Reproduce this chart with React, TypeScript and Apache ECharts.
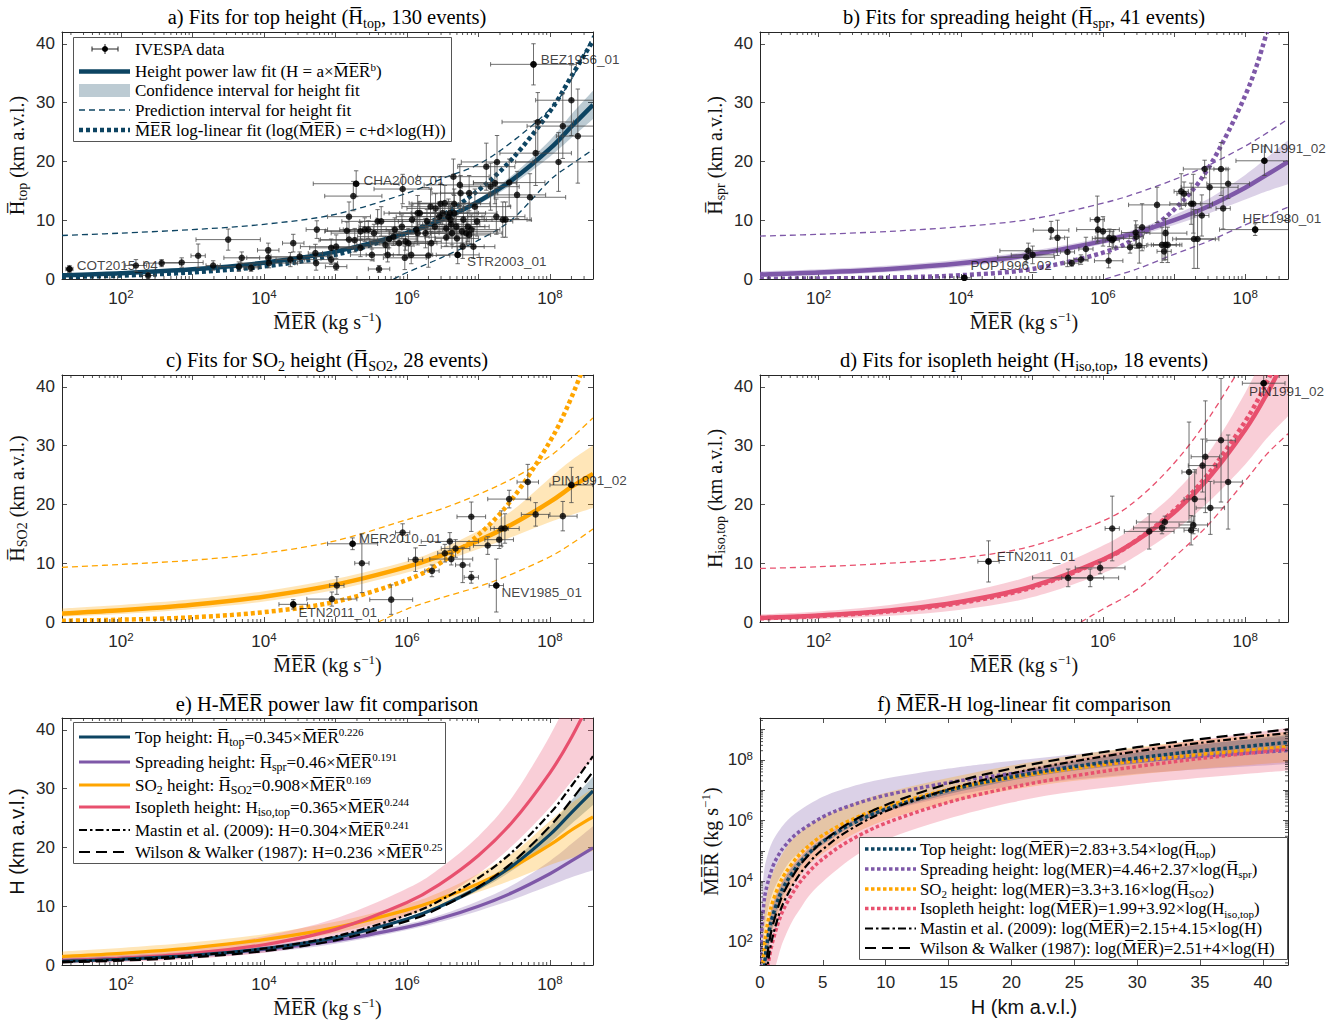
import React, { useEffect, useRef } from "react";
import * as echarts from "echarts";

// ---------------- DATA ----------------
// MER values (kg s^-1) at which the fitted curves were read
const MER_GRID = [15, 1e2, 1e3, 1e4, 1e5, 1e6, 3e6, 1e7, 3e7, 1e8, 2e8, 4e8];

// (a) top height (km a.v.l.)
const TOP_FIT = [0.64, 0.98, 1.64, 2.77, 4.65, 7.83, 10.04, 13.18, 16.89, 22.17, 25.93, 29.6];
const TOP_CI_LO = [0.45, 0.82, 1.5, 2.63, 4.5, 7.6, 9.75, 12.7, 16.1, 20.8, 24.0, 27.2];
const TOP_CI_HI = [0.82, 1.13, 1.78, 2.91, 4.8, 8.05, 10.35, 13.65, 17.7, 23.6, 28.0, 32.0];
const TOP_PI_HI = [7.4, 7.8, 8.4, 9.3, 11.0, 14.6, 17.0, 19.5, 23.4, 28.9, 34.0, 41.4];
const TOP_PI_LO = [[6.5e5, 0], [1e6, 1.1], [3e6, 3.6], [1e7, 6.6], [3e7, 10.2], [1e8, 16.8], [2e8, 19.5], [4e8, 22.0]];
const TOP_LOGLIN = [0.34, 0.58, 1.12, 2.14, 4.1, 7.86, 10.7, 15.1, 20.5, 28.5, 34.5, 40.5];

// (b) spreading height
const SPR_FIT = [0.77, 1.11, 1.72, 2.67, 4.15, 6.44, 7.94, 10.0, 12.33, 15.52, 17.71, 19.9];
const SPR_CI_LO = [0.35, 0.65, 1.2, 2.1, 3.6, 5.95, 7.35, 9.2, 11.1, 13.5, 14.9, 16.1];
const SPR_CI_HI = [1.3, 1.65, 2.3, 3.3, 4.8, 7.0, 8.55, 10.9, 13.6, 17.7, 20.6, 23.6];
const SPR_PI_HI = [7.3, 7.6, 8.1, 8.9, 10.2, 12.9, 14.6, 16.9, 19.3, 22.6, 24.8, 27.2];
const SPR_PI_LO = [[1.07e6, 0], [3e6, 1.7], [1e7, 4.2], [3e7, 6.4], [1e8, 9.2], [2e8, 10.7], [4e8, 12.2]];
const SPR_LOGLIN = [0.041, 0.092, 0.242, 0.64, 1.69, 4.47, 7.1, 11.8, 18.75, 31.2, 41.8, 55.9];

// (c) SO2 height
const SO2_FIT = [1.44, 1.98, 2.92, 4.31, 6.35, 9.38, 11.29, 13.84, 16.66, 20.42, 22.96, 25.2];
const SO2_CI_LO = [0.9, 1.35, 2.2, 3.5, 5.45, 8.4, 10.2, 12.4, 14.5, 17.0, 18.2, 19.4];
const SO2_CI_HI = [2.3, 2.9, 3.85, 5.25, 7.35, 10.35, 12.45, 15.5, 19.0, 24.5, 27.5, 30.0];
const SO2_PI_HI = [9.3, 9.8, 10.5, 11.7, 13.8, 17.4, 19.2, 21.7, 24.4, 28.2, 31.3, 34.7];
const SO2_PI_LO = [[4e5, 0], [1e6, 2.2], [3e6, 4.1], [1e7, 6.0], [3e7, 8.2], [1e8, 11.1], [2e8, 13.3], [4e8, 15.8]];
const SO2_LOGLIN = [0.21, 0.39, 0.8, 1.67, 3.45, 7.15, 10.12, 14.82, 20.98, 30.7, 38.2, 47.6];

// (d) isopleth height
const ISO_FIT = [0.71, 1.12, 1.97, 3.45, 6.06, 10.63, 13.89, 18.63, 24.36, 32.68, 38.7, 45.8];
const ISO_CI_LO = [0.25, 0.5, 1.05, 2.1, 4.2, 8.3, 11.3, 15.5, 20.3, 26.8, 31.2, 35.0];
const ISO_CI_HI = [1.3, 1.8, 2.9, 4.9, 7.9, 13.0, 16.6, 21.9, 28.6, 39.0, 46.5, 55.0];
const ISO_PI_HI = [9.1, 9.4, 10.0, 10.9, 12.9, 17.2, 20.8, 27.0, 34.5, 44.5, 50.0, 56.0];
const ISO_PI_LO = [[4.9e5, 0], [1e6, 2.2], [3e6, 5.5], [1e7, 11.0], [3e7, 16.5], [1e8, 24.0], [2e8, 28.5], [4e8, 32.0]];
const ISO_LOGLIN = [0.62, 1.01, 1.81, 3.26, 5.86, 10.54, 13.95, 18.97, 25.1, 34.1, 40.7, 48.6];

// (e) literature relations read at MER_GRID
const MASTIN_H = [0.58, 0.92, 1.61, 2.8, 4.87, 8.49, 11.06, 14.79, 19.27, 25.76, 30.44, 35.5];
const WILSON_H = [0.46, 0.75, 1.33, 2.36, 4.2, 7.46, 9.82, 13.27, 17.45, 23.6, 28.06, 32.9];

// events: [log10 MER, H, ±log10 MER error, ±H error]
const TOP_POINTS = [
  [1.28, 1.7, 0.05, 0.6], [2.21, 2.3, 0.15, 1.0], [2.38, 0.6, 0.1, 0.5], [2.57, 2.7, 0.25, 0.6], [2.85, 2.8, 0.3, 0.8],
  [3.08, 3.95, 0.1, 2.0], [3.29, 2.3, 0.1, 0.8], [3.5, 6.7, 0.45, 1.8], [3.69, 3.6, 0.25, 1.0], [3.65, 2.1, 0.3, 0.8],
  [3.82, 1.9, 0.1, 0.6], [4.06, 4.9, 0.15, 1.2], [4.06, 3.6, 0.3, 0.8], [4.07, 2.7, 0.4, 0.8], [4.41, 6.1, 0.15, 1.5],
  [4.5, 3.8, 0.4, 0.8], [4.37, 3.3, 0.2, 1.2], [4.72, 4.4, 0.1, 1.5], [4.74, 8.4, 0.15, 1.5], [4.73, 2.7, 0.3, 1.2],
  [4.94, 3.3, 0.6, 0.8], [4.94, 5.3, 0.3, 1.5], [5.01, 2.1, 0.15, 0.6], [5.01, 5.5, 0.5, 2.0], [5.16, 8.2, 0.3, 1.5],
  [5.19, 10.6, 0.3, 2.5], [5.25, 14.1, 0.4, 2.5], [5.29, 16.2, 0.6, 2.2], [5.19, 6.7, 0.4, 1.5], [5.27, 6.6, 0.5, 2.0],
  [5.35, 8.1, 0.5, 1.5], [5.41, 8.4, 0.3, 2.0], [5.46, 8.4, 0.4, 1.5], [5.35, 5.3, 0.4, 1.5], [5.51, 4.1, 0.3, 1.0],
  [5.61, 1.7, 0.15, 0.6], [5.59, 9.8, 0.5, 2.0], [5.64, 9.8, 0.3, 2.5], [5.54, 7.8, 0.6, 1.5], [5.7, 5.8, 0.4, 1.5],
  [5.73, 4.1, 0.3, 1.2], [5.81, 7.2, 0.5, 1.5], [5.83, 8.4, 0.5, 2.0], [5.89, 6.1, 0.4, 2.0], [5.93, 8.9, 0.6, 2.0],
  [5.94, 15.3, 0.4, 2.5], [5.97, 3.6, 0.3, 2.0], [5.98, 6.4, 0.5, 1.5], [6.02, 6.1, 0.4, 2.5], [6.06, 4.1, 0.3, 1.5],
  [6.07, 10.1, 0.5, 2.5], [6.13, 8.4, 0.6, 2.0], [6.15, 11.2, 0.4, 3.0], [6.18, 11.2, 0.5, 2.0], [6.15, 7.8, 0.3, 2.0],
  [6.26, 7.8, 0.5, 2.5], [6.28, 9.8, 0.4, 2.0], [6.3, 4.0, 0.3, 2.0], [6.33, 12.3, 0.4, 3.0], [6.34, 6.1, 0.5, 2.0],
  [6.39, 8.9, 0.5, 2.5], [6.45, 10.6, 0.6, 2.5], [6.47, 12.8, 0.4, 3.5], [6.5, 11.2, 0.6, 2.0], [6.53, 12.9, 0.5, 3.0],
  [6.55, 8.6, 0.4, 2.0], [6.55, 7.1, 0.3, 1.5], [6.58, 10.6, 0.5, 3.0], [6.6, 11.2, 0.4, 2.0], [6.61, 10.1, 0.5, 2.5],
  [6.63, 7.8, 0.3, 2.0], [6.65, 17.4, 0.5, 3.0], [6.66, 12.8, 0.5, 2.5], [6.66, 11.2, 0.6, 3.0], [6.69, 8.9, 0.4, 2.0],
  [6.7, 6.9, 0.3, 2.5], [6.71, 4.1, 0.3, 1.5], [6.74, 16.0, 0.5, 3.5], [6.75, 14.6, 0.4, 3.0], [6.77, 8.1, 0.5, 2.0],
  [6.78, 5.5, 0.3, 2.0], [6.79, 10.1, 0.4, 2.5], [6.83, 7.8, 0.5, 2.0], [6.85, 8.9, 0.3, 2.5], [6.87, 14.6, 0.4, 3.0],
  [6.87, 7.5, 0.3, 1.5], [6.93, 5.5, 0.3, 2.0], [6.9, 8.4, 0.4, 2.5], [6.98, 9.8, 0.5, 2.5], [7.11, 19.1, 0.4, 4.0],
  [7.17, 15.7, 0.4, 4.0], [7.23, 16.3, 0.3, 3.5], [7.26, 19.9, 0.5, 4.5], [7.25, 10.6, 0.4, 3.0], [7.34, 10.1, 0.4, 3.0],
  [7.38, 10.1, 0.3, 3.0], [7.43, 16.4, 0.5, 4.0], [7.54, 14.3, 0.4, 4.0], [7.72, 13.9, 0.5, 4.0], [7.77, 36.5, 0.6, 3.5],
  [7.8, 21.4, 0.5, 5.5], [7.83, 26.7, 0.5, 5.0], [8.12, 19.9, 0.6, 5.0], [8.18, 26.0, 0.5, 5.5], [8.3, 30.4, 0.5, 6.0],
  [8.39, 24.3, 0.3, 8.0], [6.4, 12.0, 0.4, 2.5], [6.62, 9.3, 0.4, 2.0], [6.95, 12.3, 0.5, 3.0], [5.75, 6.8, 0.4, 1.5],
];
const SPR_POINTS = [
  [4.05, 0.2, 0.1, 0.3], [4.92, 3.7, 0.4, 1.0], [4.95, 4.8, 0.4, 1.3], [5.01, 4.1, 0.3, 1.5], [5.27, 8.3, 0.25, 1.5],
  [5.36, 7.0, 0.1, 3.0], [5.5, 4.6, 0.1, 2.5], [5.56, 2.7, 0.1, 0.5], [5.69, 3.3, 0.1, 0.8], [5.76, 5.1, 0.1, 2.0],
  [5.92, 10.1, 0.1, 4.0], [5.93, 8.4, 0.3, 2.0], [6.0, 8.1, 0.1, 2.5], [6.08, 3.1, 0.2, 1.2], [6.09, 7.0, 0.2, 1.5],
  [6.13, 6.6, 0.1, 1.5], [6.15, 6.9, 0.3, 1.5], [6.38, 5.4, 0.2, 1.0], [6.46, 7.9, 0.2, 2.0], [6.47, 7.2, 0.1, 2.0],
  [6.51, 5.7, 0.1, 3.0], [6.55, 8.8, 0.1, 4.0], [6.76, 12.6, 0.4, 3.0], [6.83, 5.8, 0.2, 3.0], [6.88, 5.8, 0.2, 2.5],
  [6.86, 4.7, 0.1, 1.5], [6.88, 7.8, 0.3, 2.5], [6.91, 5.8, 0.2, 3.0], [7.1, 14.9, 0.1, 3.0], [7.14, 14.5, 0.1, 2.0],
  [7.24, 12.8, 0.3, 3.5], [7.27, 12.8, 0.1, 5.0], [7.28, 6.8, 0.3, 5.0], [7.33, 6.8, 0.3, 5.0], [7.39, 10.8, 0.1, 3.5],
  [7.43, 18.7, 0.3, 1.5], [7.5, 15.6, 0.4, 3.5], [7.66, 18.7, 0.1, 4.5], [7.69, 12.0, 0.1, 3.5], [7.76, 16.2, 0.3, 2.5],
  [8.14, 8.4, 0.5, 1.0], [8.27, 20.1, 0.4, 2.5],
];
const SO2_POINTS = [
  [4.41, 3.0, 0.2, 0.8], [4.95, 3.9, 0.35, 1.2], [5.02, 6.2, 0.1, 1.5], [5.24, 13.3, 0.35, 1.0], [5.37, 10.0, 0.1, 5.0],
  [5.78, 3.8, 0.3, 2.5], [5.94, 15.2, 0.1, 1.5], [6.12, 10.6, 0.1, 2.0], [6.35, 8.7, 0.1, 1.0], [6.53, 11.7, 0.1, 1.5],
  [6.6, 13.7, 0.4, 1.5], [6.62, 10.7, 0.3, 1.0], [6.68, 12.5, 0.2, 1.5], [6.78, 9.7, 0.1, 3.0], [6.9, 17.9, 0.2, 2.5],
  [6.9, 7.6, 0.1, 1.0], [7.13, 13.0, 0.2, 1.5], [7.25, 6.2, 0.1, 4.5], [7.29, 14.0, 0.2, 1.5], [7.32, 15.9, 0.1, 3.0],
  [7.37, 15.9, 0.2, 2.5], [7.43, 20.9, 0.3, 1.5], [7.69, 23.8, 0.15, 3.0], [7.8, 18.3, 0.2, 2.0], [8.18, 18.0, 0.2, 2.5],
  [8.3, 23.3, 0.3, 3.0],
];
const ISO_POINTS = [
  [4.39, 10.3, 0.15, 3.5], [5.51, 7.5, 0.5, 1.5], [5.82, 7.5, 0.4, 1.5], [5.96, 9.2, 0.35, 1.0], [6.13, 15.9, 0.1, 5.5],
  [6.65, 15.4, 0.35, 3.0], [6.83, 16.0, 0.4, 1.0], [6.87, 17.0, 0.4, 1.0], [7.21, 25.5, 0.1, 8.5], [7.24, 15.6, 0.1, 2.5],
  [7.27, 16.5, 0.2, 1.5], [7.29, 20.9, 0.15, 5.0], [7.4, 26.6, 0.2, 4.5], [7.44, 28.1, 0.2, 9.5], [7.51, 19.4, 0.2, 4.5],
  [7.66, 30.9, 0.2, 10.5], [7.76, 23.8, 0.2, 8.0], [8.26, 40.6, 0.3, 1.5],
];

// labelled events: [name, log10 MER, H]
const TOP_EVENTS = [["COT2015_04", 1.28, 1.7], ["CHA2008_01", 5.29, 16.2], ["BEZ1956_01", 7.77, 36.5], ["STR2003_01", 6.71, 4.1]];
const SPR_EVENTS = [["PIN1991_02", 8.27, 20.1], ["HEL1980_01", 8.14, 8.4], ["POP1996_02", 4.05, 0.2]];
const SO2_EVENTS = [["MER2010_01", 5.24, 13.3], ["ETN2011_01", 4.41, 3.0], ["NEV1985_01", 7.25, 6.2], ["PIN1991_02", 8.3, 23.3]];
const ISO_EVENTS = [["ETN2011_01", 4.39, 10.3], ["PIN1991_02", 8.26, 40.6]];

// (f) log-linear fits: [H (km), log10 MER]
const F_TOP = [[0.34, 1.17], [0.5, 1.764], [0.75, 2.388], [1, 2.83], [1.5, 3.453], [2, 3.896], [3, 4.519], [4, 4.961], [5, 5.304], [7, 5.822], [10, 6.37], [15, 6.993], [20, 7.436], [25, 7.779], [30, 8.059], [35, 8.296], [42, 8.576]];
const F_SPR = [[0.04, 1.147], [0.05, 1.377], [0.1, 2.09], [0.3, 3.221], [0.5, 3.747], [1, 4.46], [1.5, 4.877], [2, 5.173], [3, 5.591], [5, 6.117], [7, 6.463], [10, 6.83], [15, 7.247], [20, 7.543], [25, 7.773], [30, 7.961], [35, 8.12], [42, 8.307]];
const F_SO2 = [[0.2, 1.091], [0.3, 1.648], [0.5, 2.349], [0.75, 2.905], [1, 3.3], [1.5, 3.856], [2, 4.251], [3, 4.808], [4, 5.203], [5, 5.509], [7, 5.971], [10, 6.46], [15, 7.016], [20, 7.411], [25, 7.717], [30, 7.968], [35, 8.179], [42, 8.429]];
const F_ISO = [[0.62, 1.18], [0.75, 1.5], [1, 1.99], [1.5, 2.68], [2, 3.17], [3, 3.86], [4, 4.35], [5, 4.73], [7, 5.303], [10, 5.91], [15, 6.6], [20, 7.09], [25, 7.47], [30, 7.78], [35, 8.043], [42, 8.353]];
const F_MASTIN = [[0.5, 0.901], [0.75, 1.632], [1, 2.15], [1.5, 2.881], [2, 3.399], [3, 4.13], [4, 4.649], [5, 5.051], [7, 5.657], [10, 6.3], [15, 7.031], [20, 7.549], [25, 7.951], [30, 8.28], [35, 8.558], [42, 8.886]];
const F_WILSON = [[0.4, 0.918], [0.5, 1.306], [0.75, 2.01], [1, 2.51], [1.5, 3.214], [2, 3.714], [3, 4.418], [4, 4.918], [5, 5.306], [7, 5.89], [10, 6.51], [15, 7.214], [20, 7.714], [25, 8.102], [30, 8.418], [35, 8.686], [42, 9.003]];
// (f) confidence bands: [H, log10 MER low, log10 MER high]
const F_TOP_CI = [[0.3, 0.33, 1.63], [0.5, 1.26, 2.26], [0.75, 1.97, 2.81], [1, 2.48, 3.18], [1.5, 3.17, 3.73], [2, 3.68, 4.12], [3, 4.36, 4.68], [5, 5.2, 5.4], [10, 6.29, 6.45], [20, 7.32, 7.56], [30, 7.88, 8.24], [42, 8.33, 8.83]];
const F_SPR_CI = [[0.05, 0.08, 2.68], [0.1, 0.94, 3.24], [0.3, 2.22, 4.22], [0.5, 2.8, 4.7], [1, 3.61, 5.31], [2, 4.42, 5.92], [3, 4.89, 6.29], [5, 5.46, 6.78], [7, 5.84, 7.08], [10, 6.28, 7.38], [15, 6.79, 7.71], [20, 7.12, 7.96], [30, 7.54, 8.38], [42, 7.86, 8.76]];
const F_SO2_CI = [[0.2, -0.21, 2.39], [0.3, 0.45, 2.85], [0.5, 1.25, 3.45], [1, 2.35, 4.25], [2, 3.45, 5.05], [3, 4.09, 5.53], [5, 4.91, 6.11], [10, 6.01, 6.91], [20, 7.01, 7.81], [30, 7.52, 8.42], [42, 7.93, 8.93]];
const F_ISO_CI = [[0.3, -1.56, 1.44], [0.5, -0.59, 2.21], [1, 0.74, 3.24], [1.5, 1.58, 3.78], [2, 2.17, 4.17], [3, 2.96, 4.76], [5, 3.98, 5.48], [10, 5.36, 6.46], [20, 6.59, 7.59], [30, 7.2, 8.36], [42, 7.65, 9.05]];

// minor log ticks (axis decoration)
const MINOR_MANTISSA = [2, 3, 4, 5, 6, 7, 8, 9];
const MINOR_DECADES = [1, 2, 3, 4, 5, 6, 7, 8, 9];

// ---------------- STYLE ----------------
const SERIF = "'Liberation Serif', 'DejaVu Serif', serif";
const SANS = "'Liberation Sans', Arial, sans-serif";
const AX = "#262626";
const C_TOP = "#0d4462";
const C_SPR = "#7e58a8";
const C_SO2 = "#ffa500";
const C_ISO = "#e8506e";
const B_TOP = "rgba(13,68,98,0.28)";
const B_SPR = "rgba(126,88,168,0.28)";
const B_SO2 = "rgba(255,165,0,0.28)";
const B_ISO = "rgba(232,80,110,0.28)";
const DOTTED = [4, 3];
const DOTTED_F = [3.5, 2.5];
const DASHED = [6, 4];
const DASHDOT = [8, 3, 2.5, 3];
const LONGDASH = [11, 6];

const X_MIN = 15, X_MAX = 4e8, Y_MAX = 42, F_Y_MIN = 17, F_Y_MAX = 2.4e9;

const GRIDS = [
  { left: 62, top: 32, width: 531, height: 247 },
  { left: 760, top: 32, width: 528, height: 247 },
  { left: 62, top: 375, width: 531, height: 247 },
  { left: 760, top: 375, width: 528, height: 247 },
  { left: 62, top: 718, width: 531, height: 247 },
  { left: 760, top: 718, width: 528, height: 247 },
];

const ovl = (s: string) => s.split("").map((c) => c + "\u0305").join("");
const MER = ovl("MER");
const HB = "H\u0305";

function richFor(size: number, family: string, color = "#000", ec = false) {
  const colorKey = ec ? "color" : "fill";
  return {
    sub: { fontSize: Math.round(size * 0.68), fontFamily: family, [colorKey]: color, verticalAlign: "bottom", lineHeight: Math.round(size * 0.72) },
    sup: { fontSize: Math.round(size * 0.64), fontFamily: family, [colorKey]: color, verticalAlign: "top", lineHeight: Math.round(size * 0.6) },
  };
}

const p10 = (v: number) => Math.pow(10, v);

// ---------------- SERIES HELPERS ----------------
function smoothPath(pts: number[][], move: boolean) {
  let d = (move ? "M" : "L") + pts[0][0].toFixed(2) + "," + pts[0][1].toFixed(2);
  for (let i = 0; i < pts.length - 1; i++) {
    const p0 = pts[i - 1] || pts[i], p1 = pts[i], p2 = pts[i + 1], p3 = pts[i + 2] || p2;
    let c1x = p1[0] + (p2[0] - p0[0]) / 6, c1y = p1[1] + (p2[1] - p0[1]) / 6;
    let c2x = p2[0] - (p3[0] - p1[0]) / 6, c2y = p2[1] - (p3[1] - p1[1]) / 6;
    const lo = Math.min(p1[0], p2[0]), hi = Math.max(p1[0], p2[0]);
    c1x = Math.min(hi, Math.max(lo, c1x));
    c2x = Math.min(hi, Math.max(lo, c2x));
    d += ` C${c1x.toFixed(2)},${c1y.toFixed(2)} ${c2x.toFixed(2)},${c2y.toFixed(2)} ${p2[0].toFixed(2)},${p2[1].toFixed(2)}`;
  }
  return d;
}

// smooth curve drawn through the axes' scales (api.coord)
function curve(gi: number, data: number[][], color: string, width: number, dash: any, z = 3) {
  return {
    type: "custom", xAxisIndex: 2 * gi, yAxisIndex: 2 * gi, silent: true, clip: true, z,
    data, encode: { x: 0, y: 1 },
    renderItem: (params: any, api: any) => {
      if (params.dataIndex !== 0) return null;
      const pts = data.map((d) => api.coord(d));
      return {
        type: "path", shape: { pathData: smoothPath(pts, true) },
        style: { fill: null, stroke: color, lineWidth: width, lineDash: dash === "solid" ? null : dash, lineCap: "butt", lineJoin: "round" },
      };
    },
  };
}

function band(gi: number, rows: number[][], fill: string, z = 1) {
  // rows: [x, lo, hi]
  return {
    type: "custom", xAxisIndex: 2 * gi, yAxisIndex: 2 * gi, silent: true, clip: true, z,
    data: rows, encode: { x: 0, y: [1, 2] },
    renderItem: (params: any, api: any) => {
      if (params.dataIndex !== 0) return null;
      const up = rows.map((r) => api.coord([r[0], r[2]]));
      const lo = rows.map((r) => api.coord([r[0], r[1]])).reverse();
      const d = smoothPath(up, true) + " " + smoothPath(lo, false) + " Z";
      return { type: "path", shape: { pathData: d }, style: { fill, stroke: null } };
    },
  };
}

function errBars(gi: number, pts: number[][]) {
  return {
    type: "custom", xAxisIndex: 2 * gi, yAxisIndex: 2 * gi, silent: true, clip: true, z: 5,
    data: pts.map((p) => [p10(p[0]), p[1], p10(p[0] - p[2]), p10(p[0] + p[2]), Math.max(p[1] - p[3], 0.001), p[1] + p[3]]),
    encode: { x: [0, 2, 3], y: [1, 4, 5] },
    renderItem: (params: any, api: any) => {
      const x = api.value(0), y = api.value(1);
      const l = api.coord([api.value(2), y]), r = api.coord([api.value(3), y]);
      const b = api.coord([x, api.value(4)]), t = api.coord([x, api.value(5)]);
      const st = { stroke: "#4a4a4a", lineWidth: 0.8 };
      const c = 2.2;
      return {
        type: "group",
        children: [
          { type: "line", shape: { x1: l[0], y1: l[1], x2: r[0], y2: r[1] }, style: st },
          { type: "line", shape: { x1: l[0], y1: l[1] - c, x2: l[0], y2: l[1] + c }, style: st },
          { type: "line", shape: { x1: r[0], y1: r[1] - c, x2: r[0], y2: r[1] + c }, style: st },
          { type: "line", shape: { x1: b[0], y1: b[1], x2: t[0], y2: t[1] }, style: st },
          { type: "line", shape: { x1: b[0] - c, y1: b[1], x2: b[0] + c, y2: b[1] }, style: st },
          { type: "line", shape: { x1: t[0] - c, y1: t[1], x2: t[0] + c, y2: t[1] }, style: st },
        ],
      };
    },
  };
}

function dots(gi: number, pts: number[][]) {
  return {
    type: "scatter", xAxisIndex: 2 * gi, yAxisIndex: 2 * gi, silent: true, z: 6, clip: false,
    data: pts.map((p) => [p10(p[0]), p[1]]), symbol: "circle", symbolSize: 6.5,
    itemStyle: { color: "#000" }, emphasis: { disabled: true },
  };
}

function eventLabels(gi: number, evs: any[], offsets: number[][]) {
  return {
    type: "scatter", xAxisIndex: 2 * gi, yAxisIndex: 2 * gi, silent: true, z: 7, clip: false,
    symbol: "circle", symbolSize: 6.5, itemStyle: { color: "#000" }, emphasis: { disabled: true },
    data: evs.map((e, i) => ({
      value: [p10(e[1]), e[2]], name: e[0],
      label: { show: true, position: "right", distance: 4, offset: offsets[i], formatter: e[0], fontFamily: SANS, fontSize: 13.5, color: "#111" },
    })),
  };
}

function minorTicksX(gi: number, yTop: number) {
  const vals: number[][] = [];
  MINOR_DECADES.forEach((e) => MINOR_MANTISSA.forEach((m) => {
    const v = m * Math.pow(10, e);
    if (v > X_MIN && v < X_MAX) vals.push([v, 0]);
  }));
  return {
    type: "custom", xAxisIndex: 2 * gi, yAxisIndex: 2 * gi, silent: true, clip: false, z: 8, data: vals,
    encode: { x: 0, y: 1 },
    renderItem: (params: any, api: any) => {
      const v = api.value(0);
      const b = api.coord([v, 0]), t = api.coord([v, yTop]);
      const st = { stroke: AX, lineWidth: 0.8 };
      return { type: "group", children: [
        { type: "line", shape: { x1: b[0], y1: b[1], x2: b[0], y2: b[1] - 3 }, style: st },
        { type: "line", shape: { x1: t[0], y1: t[1], x2: t[0], y2: t[1] + 3 }, style: st },
      ] };
    },
  };
}

function minorTicksY(gi: number, xRight: number) {
  const vals: number[][] = [];
  MINOR_DECADES.forEach((e) => MINOR_MANTISSA.forEach((m) => {
    const v = m * Math.pow(10, e);
    if (v > F_Y_MIN && v < F_Y_MAX) vals.push([0, v]);
  }));
  return {
    type: "custom", xAxisIndex: 2 * gi, yAxisIndex: 2 * gi, silent: true, clip: false, z: 8, data: vals,
    encode: { x: 0, y: 1 },
    renderItem: (params: any, api: any) => {
      const v = api.value(1);
      const l = api.coord([0, v]), r = api.coord([xRight, v]);
      const st = { stroke: AX, lineWidth: 0.8 };
      return { type: "group", children: [
        { type: "line", shape: { x1: l[0], y1: l[1], x2: l[0] + 3, y2: l[1] }, style: st },
        { type: "line", shape: { x1: r[0], y1: r[1], x2: r[0] - 3, y2: r[1] }, style: st },
      ] };
    },
  };
}

const onGrid = (ys: number[]) => MER_GRID.map((m, i) => [m, ys[i]]);
const ciRows = (lo: number[], hi: number[]) => MER_GRID.map((m, i) => [m, lo[i], hi[i]]);
const fRows = (arr: number[][]) => arr.map((r) => [r[0], p10(r[1])]);
const fBand = (arr: number[][]) => arr.map((r) => [r[0], p10(r[1]), p10(r[2])]);

function fitPanel(gi: number, c: any) {
  return [
    band(gi, ciRows(c.ciLo, c.ciHi), c.band),
    curve(gi, onGrid(c.piHi), c.color, 1.3, DASHED, 3),
    curve(gi, c.piLo, c.color, 1.3, DASHED, 3),
    curve(gi, onGrid(c.fit), c.color, 4.5, "solid", 4),
    curve(gi, onGrid(c.ll), c.color, 4.5, DOTTED, 4),
    errBars(gi, c.points),
    dots(gi, c.points),
    eventLabels(gi, c.events, c.offsets),
    minorTicksX(gi, Y_MAX),
  ];
}

// ---------------- AXES ----------------
const axisLineCfg = { show: true, onZero: false, lineStyle: { color: AX, width: 1 } };
const tickCfg = { show: true, inside: true, length: 5, lineStyle: { color: AX, width: 0.8 } };
const tickRich = {
  b: { fontFamily: SANS, fontSize: 17, color: AX, lineHeight: 20 },
  e: { fontFamily: SANS, fontSize: 11.5, color: AX, verticalAlign: "top", lineHeight: 11 },
};
const logFmt = (v: number) => {
  const e = Math.log10(v);
  const r = Math.round(e);
  if (Math.abs(e - r) > 1e-6 || r % 2 !== 0) return "";
  return `{b|10}{e|${r}}`;
};

const NAME_SIZE = 20;
function nameStyle(family: string, size = NAME_SIZE) {
  return { fontFamily: family, fontSize: size, color: "#111", lineHeight: 24, rich: richFor(size, family, "#111", true) };
}

function logX(gi: number, top: boolean, name = "") {
  return {
    type: "log", logBase: 10, gridIndex: gi, min: X_MIN, max: X_MAX, position: top ? "top" : "bottom",
    axisLine: axisLineCfg, axisTick: tickCfg, splitLine: { show: false }, minorTick: { show: false },
    axisLabel: top ? { show: false } : { show: true, formatter: logFmt, margin: 9, rich: tickRich, color: AX, fontFamily: SANS, fontSize: 17 },
    name: top ? "" : name, nameLocation: "middle", nameGap: 31, nameTextStyle: nameStyle(SERIF),
    silent: true,
  };
}
function linY(gi: number, right: boolean, name = "", family = SERIF) {
  return {
    type: "value", gridIndex: gi, min: 0, max: Y_MAX, interval: 10, position: right ? "right" : "left",
    axisLine: axisLineCfg, axisTick: tickCfg, splitLine: { show: false },
    axisLabel: right ? { show: false } : { show: true, margin: 7, color: AX, fontFamily: SANS, fontSize: 17, formatter: (v: number) => (v % 10 === 0 ? String(v) : "") },
    name: right ? "" : name, nameLocation: "middle", nameGap: 33, nameTextStyle: nameStyle(family),
    silent: true,
  };
}
function linXF(gi: number, top: boolean) {
  return {
    type: "value", gridIndex: gi, min: 0, max: Y_MAX, interval: 5, position: top ? "top" : "bottom",
    axisLine: axisLineCfg, axisTick: tickCfg, splitLine: { show: false },
    axisLabel: top ? { show: false } : { show: true, margin: 9, color: AX, fontFamily: SANS, fontSize: 17, formatter: (v: number) => (v % 5 === 0 ? String(v) : "") },
    name: top ? "" : "H (km a.v.l.)", nameLocation: "middle", nameGap: 30, nameTextStyle: nameStyle(SANS),
    silent: true,
  };
}
function logYF(gi: number, right: boolean) {
  return {
    type: "log", logBase: 10, gridIndex: gi, min: F_Y_MIN, max: F_Y_MAX, position: right ? "right" : "left",
    axisLine: axisLineCfg, axisTick: tickCfg, splitLine: { show: false },
    axisLabel: right ? { show: false } : { show: true, formatter: logFmt, margin: 7, rich: tickRich, color: AX, fontFamily: SANS, fontSize: 17 },
    name: right ? "" : `${MER} (kg s{sup|−1})`, nameLocation: "middle", nameGap: 37, nameTextStyle: nameStyle(SERIF),
    silent: true,
  };
}

// ---------------- GRAPHIC (titles & legends) ----------------
function gtext(x: number, y: number, text: string, size: number, family = SERIF, align = "left") {
  return {
    type: "text", x, y, z: 101, silent: true,
    style: {
      text, fontFamily: family, fontSize: size, fill: "#000", align, textAlign: align,
      verticalAlign: "middle", textVerticalAlign: "middle", lineHeight: Math.round(size * 1.25),
      rich: richFor(size, family),
    },
  };
}
function gline(x1: number, y1: number, x2: number, y2: number, stroke: string, lineWidth: number, dash?: number[]) {
  return { type: "line", z: 101, silent: true, shape: { x1, y1, x2, y2 }, style: { stroke, lineWidth, lineDash: dash || null, lineCap: "butt" } };
}
function grect(x: number, y: number, w: number, h: number, fill: string, stroke?: string) {
  return { type: "rect", z: 100, silent: true, shape: { x, y, width: w, height: h }, style: { fill, stroke: stroke || null, lineWidth: 1 } };
}

const TITLES = [
  [327, 17, `a) Fits for top height (${HB}{sub|top}, 130 events)`],
  [1024, 17, `b) Fits for spreading height (${HB}{sub|spr}, 41 events)`],
  [327, 360, `c) Fits for SO{sub|2} height (${HB}{sub|SO2}, 28 events)`],
  [1024, 360, `d) Fits for isopleth height (H{sub|iso,top}, 18 events)`],
  [327, 704, `e) H-${MER} power law fit comparison`],
  [1024, 704, `f) ${MER}-H log-linear fit comparison`],
];

function buildGraphic() {
  const g: any[] = [];
  TITLES.forEach((t) => g.push(gtext(t[0] as number, t[1] as number, t[2] as string, 20.5, SERIF, "center")));

  // legend a
  g.push(grect(73.5, 37.5, 378, 104, "#fff", "#555"));
  const ax1 = 79, ax2 = 130, tx = 135, fs = 17;
  g.push(gline(92, 49, 118, 49, "#222", 1));
  g.push(gline(92, 46.5, 92, 51.5, "#222", 1));
  g.push(gline(118, 46.5, 118, 51.5, "#222", 1));
  g.push(gline(105, 44, 105, 54, "#222", 1));
  g.push({ type: "circle", z: 102, silent: true, shape: { cx: 105, cy: 49, r: 3 }, style: { fill: "#000" } });
  g.push(gtext(tx, 49, "IVESPA data", fs));
  g.push(gline(ax1, 71.5, ax2, 71.5, C_TOP, 4.5));
  g.push(gtext(tx, 71.5, `Height power law fit (H = a×${MER}{sup|b})`, fs));
  g.push(grect(ax1, 84, ax2 - ax1, 13, B_TOP));
  g.push(gtext(tx, 90.5, "Confidence interval for height fit", fs));
  g.push(gline(ax1, 110, ax2, 110, C_TOP, 1.3, DASHED));
  g.push(gtext(tx, 110, "Prediction interval for height fit", fs));
  g.push(gline(ax1, 130, ax2, 130, C_TOP, 4.5, DOTTED));
  g.push(gtext(tx, 130, `${MER} log-linear fit (log(${MER}) = c+d×log(H))`, fs));

  // legend e
  g.push(grect(73.5, 722.5, 372, 141, "#fff", "#555"));
  const eRows: any[] = [
    [737, C_TOP, 3.2, null, `Top height: ${HB}{sub|top}=0.345×${MER}{sup|0.226}`],
    [762, C_SPR, 3.2, null, `Spreading height: ${HB}{sub|spr}=0.46×${MER}{sup|0.191}`],
    [785, C_SO2, 3.2, null, `SO{sub|2} height: ${HB}{sub|SO2}=0.908×${MER}{sup|0.169}`],
    [807, C_ISO, 3.2, null, `Isopleth height: H{sub|iso,top}=0.365×${MER}{sup|0.244}`],
    [830, "#000", 2.2, DASHDOT, `Mastin et al. (2009): H=0.304×${MER}{sup|0.241}`],
    [852, "#000", 2.2, LONGDASH, `Wilson & Walker (1987): H=0.236 ×${MER}{sup|0.25}`],
  ];
  eRows.forEach((r) => {
    g.push(gline(ax1, r[0], ax2, r[0], r[1], r[2], r[3] || undefined));
    g.push(gtext(tx, r[0], r[4], fs));
  });

  // legend f
  g.push(grect(859.5, 837.5, 428, 122, "#fff", "#555"));
  const fRowsL: any[] = [
    [849, C_TOP, 3.5, DOTTED_F, `Top height: log(${MER})=2.83+3.54×log(${HB}{sub|top})`],
    [869, C_SPR, 3.5, DOTTED_F, `Spreading height: log(MER)=4.46+2.37×log(${HB}{sub|spr})`],
    [889, C_SO2, 3.5, DOTTED_F, `SO{sub|2} height: log(MER)=3.3+3.16×log(${HB}{sub|SO2})`],
    [908.5, C_ISO, 3.5, DOTTED_F, `Isopleth height: log(${MER})=1.99+3.92×log(H{sub|iso,top})`],
    [928.5, "#000", 2.2, DASHDOT, `Mastin et al. (2009): log(${MER})=2.15+4.15×log(H)`],
    [948, "#000", 2.2, LONGDASH, `Wilson & Walker (1987): log(${MER})=2.51+4×log(H)`],
  ];
  fRowsL.forEach((r) => {
    g.push(gline(865, r[0], 916, r[0], r[1], r[2], r[3]));
    g.push(gtext(920, r[0], r[4], 16.8));
  });
  return g;
}

// ---------------- OPTION ----------------
function buildOption() {
  const xName = `${MER} (kg s{sup|−1})`;
  const yNames = [
    `${HB}{sub|top} (km a.v.l.)`,
    `${HB}{sub|spr} (km a.v.l.)`,
    `${HB}{sub|SO2} (km a.v.l.)`,
    `H{sub|iso,top} (km a.v.l.)`,
    `H (km a.v.l.)`,
  ];
  const xAxis: any[] = [], yAxis: any[] = [];
  for (let gi = 0; gi < 6; gi++) {
    if (gi < 5) {
      xAxis.push(logX(gi, false, xName), logX(gi, true));
      yAxis.push(linY(gi, false, yNames[gi], gi === 4 ? SANS : SERIF), linY(gi, true));
    } else {
      xAxis.push(linXF(gi, false), linXF(gi, true));
      yAxis.push(logYF(gi, false), logYF(gi, true));
    }
  }

  const series: any[] = [
    ...fitPanel(0, { ciLo: TOP_CI_LO, ciHi: TOP_CI_HI, band: B_TOP, piHi: TOP_PI_HI, piLo: TOP_PI_LO, fit: TOP_FIT, ll: TOP_LOGLIN, color: C_TOP, points: TOP_POINTS, events: TOP_EVENTS, offsets: [[0, -4], [0, -3], [0, -5], [2, 7]] }),
    ...fitPanel(1, { ciLo: SPR_CI_LO, ciHi: SPR_CI_HI, band: B_SPR, piHi: SPR_PI_HI, piLo: SPR_PI_LO, fit: SPR_FIT, ll: SPR_LOGLIN, color: C_SPR, points: SPR_POINTS, events: SPR_EVENTS, offsets: [[-21, -12], [-20, -11], [-1, -12]] }),
    ...fitPanel(2, { ciLo: SO2_CI_LO, ciHi: SO2_CI_HI, band: B_SO2, piHi: SO2_PI_HI, piLo: SO2_PI_LO, fit: SO2_FIT, ll: SO2_LOGLIN, color: C_SO2, points: SO2_POINTS, events: SO2_EVENTS, offsets: [[-1, -5], [-2, 8], [-2, 7], [-27, -4]] }),
    ...fitPanel(3, { ciLo: ISO_CI_LO, ciHi: ISO_CI_HI, band: B_ISO, piHi: ISO_PI_HI, piLo: ISO_PI_LO, fit: ISO_FIT, ll: ISO_LOGLIN, color: C_ISO, points: ISO_POINTS, events: ISO_EVENTS, offsets: [[1, -5], [-22, 8]] }),
    // e
    band(4, ciRows(TOP_CI_LO, TOP_CI_HI), B_TOP),
    band(4, ciRows(SPR_CI_LO, SPR_CI_HI), B_SPR),
    band(4, ciRows(SO2_CI_LO, SO2_CI_HI), B_SO2),
    band(4, ciRows(ISO_CI_LO, ISO_CI_HI), B_ISO),
    curve(4, onGrid(SPR_FIT), C_SPR, 3.2, "solid"),
    curve(4, onGrid(SO2_FIT), C_SO2, 3.2, "solid"),
    curve(4, onGrid(ISO_FIT), C_ISO, 3.2, "solid"),
    curve(4, onGrid(TOP_FIT), C_TOP, 3.2, "solid"),
    curve(4, onGrid(MASTIN_H), "#000", 2.2, DASHDOT, 5),
    curve(4, onGrid(WILSON_H), "#000", 2.2, LONGDASH, 5),
    minorTicksX(4, Y_MAX),
    // f
    band(5, fBand(F_SPR_CI), B_SPR),
    band(5, fBand(F_SO2_CI), B_SO2),
    band(5, fBand(F_ISO_CI), B_ISO),
    band(5, fBand(F_TOP_CI), B_TOP),
    curve(5, fRows(F_SPR), C_SPR, 3.5, DOTTED_F),
    curve(5, fRows(F_SO2), C_SO2, 3.5, DOTTED_F),
    curve(5, fRows(F_ISO), C_ISO, 3.5, DOTTED_F),
    curve(5, fRows(F_TOP), C_TOP, 3.5, DOTTED_F),
    curve(5, fRows(F_MASTIN), "#000", 2.2, DASHDOT, 5),
    curve(5, fRows(F_WILSON), "#000", 2.2, LONGDASH, 5),
    minorTicksY(5, Y_MAX),
  ];

  return {
    animation: false,
    backgroundColor: "#fff",
    textStyle: { fontFamily: SERIF },
    grid: GRIDS.map((g) => ({ ...g, show: false, containLabel: false, outerBoundsMode: "none" })),
    xAxis,
    yAxis,
    series,
    graphic: { elements: buildGraphic() },
  };
}

export default function App() {
  const ref = useRef<HTMLDivElement>(null);
  useEffect(() => {
    if (!ref.current) return;
    const chart = echarts.init(ref.current, null, { renderer: "svg" });
    chart.setOption(buildOption() as any);
    return () => chart.dispose();
  }, []);
  return (
    <div
      ref={ref}
      style={{ position: "absolute", left: 0, top: 0, width: 1336, height: 1022, background: "#fff" }}
    />
  );
}
